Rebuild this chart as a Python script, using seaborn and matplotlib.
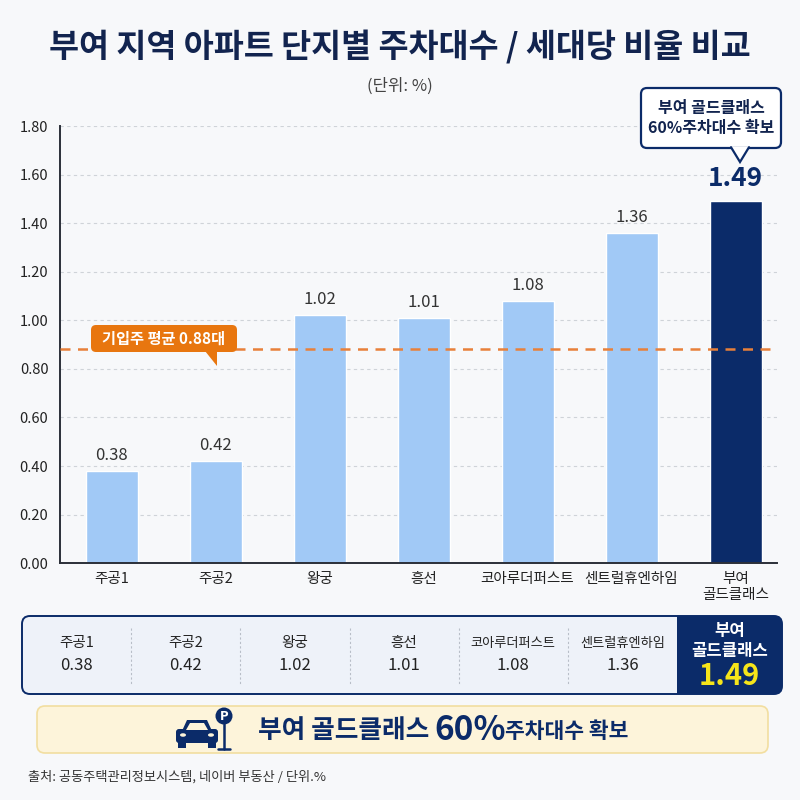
import matplotlib
matplotlib.use("Agg")
import matplotlib.pyplot as plt
import seaborn as sns
import numpy as np
from matplotlib.patches import FancyBboxPatch, Polygon, Rectangle, Circle, Ellipse
from matplotlib.ticker import FormatStrFormatter

# ---------------- data ----------------
categories = ["주공1", "주공2", "왕궁", "흥선", "코아루더퍼스트", "센트럴휴엔하임", "부여 골드클래스"]
tick_labels = ["주공1", "주공2", "왕궁", "흥선", "코아루더퍼스트", "센트럴휴엔하임", "부여\n골드클래스"]
values = [0.38, 0.42, 1.02, 1.01, 1.08, 1.36, 1.49]
average = 0.88
yticks = [0.0, 0.2, 0.4, 0.6, 0.8, 1.0, 1.2, 1.4, 1.6, 1.8]

title = "부여 지역 아파트 단지별 주차대수 / 세대당 비율 비교"
subtitle = "(단위: %)"
avg_label = "기입주 평균 0.88대"
callout_text = "부여 골드클래스\n60%주차대수 확보"
source_text = "출처: 공동주택관리정보시스템, 네이버 부동산 / 단위.%"

LIGHT = "#a1c9f6"
NAVY = "#0b2b69"
ORANGE = "#e8760f"
BG = "#f7f8fa"

sns.set_theme(style="white")
plt.rcParams["font.family"] = ["Noto Sans CJK KR", "DejaVu Sans"]

fig = plt.figure(figsize=(8, 8), dpi=100, facecolor=BG)
ax = fig.add_axes([0.0744, 0.296, 0.897, 0.5465])
ax.set_facecolor(BG)

colors = [LIGHT] * (len(categories) - 1) + [NAVY]
sns.barplot(x=categories, y=values, hue=categories, palette=colors, legend=False,
            width=0.5, ax=ax, saturation=1)

ax.set_ylim(0, 1.8)
ax.set_xlim(-0.5, len(categories) - 0.6)
ax.set_yticks(yticks)
ax.yaxis.set_major_formatter(FormatStrFormatter("%.2f"))
ax.set_xticks(range(len(categories)))
ax.set_xticklabels(tick_labels, fontsize=10.5, color="#222222")
ax.tick_params(axis="y", labelsize=10.5, colors="#222222", length=0, pad=8)
ax.tick_params(axis="x", length=0, pad=6)
ax.set_xlabel("")
ax.set_ylabel("")
ax.yaxis.grid(True, linestyle=(0, (3, 3)), color="#cfd3d8", linewidth=0.8)
ax.set_axisbelow(True)
for s in ["top", "right"]:
    ax.spines[s].set_visible(False)
for s in ["left", "bottom"]:
    ax.spines[s].set_color("#2b2f38")
    ax.spines[s].set_linewidth(1.4)

# value labels
for i, v in enumerate(values):
    if i == len(values) - 1:
        ax.text(i, v + 0.04, f"{v:.2f}", ha="center", va="bottom", fontsize=19,
                fontweight="bold", color=NAVY)
    else:
        ax.text(i, v + 0.03, f"{v:.2f}", ha="center", va="bottom", fontsize=12,
                color="#333333")

# average line
ax.axhline(average, color="#e8803a", linestyle=(0, (4, 3)), linewidth=1.8, zorder=3)

# ---------------- overlay in pixel coordinates ----------------
ov = fig.add_axes([0, 0, 1, 1])
ov.set_xlim(0, 800)
ov.set_ylim(800, 0)
ov.axis("off")
ov.patch.set_alpha(0)

ov.text(400, 47, title, ha="center", va="center", fontsize=23.5, fontweight="bold", color="#12244f")
ov.text(400, 86, subtitle, ha="center", va="center", fontsize=12, color="#444444")

# average label box
ov.add_patch(FancyBboxPatch((91, 325), 146, 27, boxstyle="round,pad=0,rounding_size=5",
                            facecolor=ORANGE, edgecolor="none", zorder=5))
ov.add_patch(Polygon([(205, 351), (217, 366), (217, 351)], closed=True, facecolor=ORANGE,
                     edgecolor="none", zorder=5))
ov.text(164, 338.5, avg_label, ha="center", va="center", fontsize=11, fontweight="bold",
        color="white", zorder=6)

# top-right callout
ov.add_patch(FancyBboxPatch((641, 88), 140, 60, boxstyle="round,pad=0,rounding_size=6",
                            facecolor="white", edgecolor=NAVY, linewidth=1.6, zorder=5))
ov.add_patch(Polygon([(731, 147), (740, 162), (749, 147)], closed=True, facecolor="white",
                     edgecolor="none", zorder=6))
ov.plot([731, 740, 749], [147.2, 162, 147.2], color=NAVY, linewidth=1.6, zorder=7,
        solid_joinstyle="miter")
ov.text(711, 118, callout_text, ha="center", va="center", fontsize=11.5, fontweight="bold",
        color="#12244f", linespacing=1.35, zorder=8)

# ---------------- table ----------------
tx0, tx1, ty0, ty1 = 22, 782, 616, 694
ov.add_patch(FancyBboxPatch((tx0, ty0), tx1 - tx0, ty1 - ty0,
                            boxstyle="round,pad=0,rounding_size=8",
                            facecolor="#eef2f9", edgecolor="none", zorder=2))
last_x0 = 677
ov.add_patch(FancyBboxPatch((last_x0, ty0), tx1 - last_x0, ty1 - ty0,
                            boxstyle="round,pad=0,rounding_size=8",
                            facecolor=NAVY, edgecolor="none", zorder=3))
ov.add_patch(Rectangle((last_x0, ty0), 20, ty1 - ty0, facecolor=NAVY, edgecolor="none", zorder=3))
ov.add_patch(FancyBboxPatch((tx0, ty0), tx1 - tx0, ty1 - ty0,
                            boxstyle="round,pad=0,rounding_size=8",
                            facecolor="none", edgecolor=NAVY, linewidth=1.4, zorder=4))
n_light = len(categories) - 1
cw = (last_x0 - tx0) / n_light
for i in range(n_light):
    cx = tx0 + cw * (i + 0.5)
    ov.text(cx, 643, categories[i], ha="center", va="center", fontsize=10.5 if len(categories[i]) < 5 else 9.5,
            color="#222222", zorder=5)
    ov.text(cx, 665, f"{values[i]:.2f}", ha="center", va="center", fontsize=12,
            color="#222222", zorder=5)
    if i > 0:
        xd = tx0 + cw * i
        ov.plot([xd, xd], [628, 684], color="#b8bec8", linestyle=(0, (2, 2)), linewidth=0.8, zorder=5)
lcx = (last_x0 + tx1) / 2
ov.text(lcx, 641, tick_labels[-1], ha="center", va="center", fontsize=12, fontweight="bold",
        color="white", linespacing=1.1, zorder=5)
ov.text(lcx, 676, f"{values[-1]:.2f}", ha="center", va="center", fontsize=21, fontweight="bold",
        color="#f6e51a", zorder=5)

# ---------------- banner ----------------
ov.add_patch(FancyBboxPatch((37, 706), 731, 47, boxstyle="round,pad=0,rounding_size=8",
                            facecolor="#fdf4da", edgecolor="#f2dea0", linewidth=1.2, zorder=2))
# car icon
ov.add_patch(Polygon([(182, 731), (187, 720), (207, 720), (212, 731)], closed=True,
                     facecolor=NAVY, edgecolor="none", zorder=4))
ov.add_patch(Polygon([(186, 730), (190, 723), (204, 723), (208, 730)], closed=True,
                     facecolor="#fdf4da", edgecolor="none", zorder=5))
ov.add_patch(FancyBboxPatch((176, 729), 42, 14, boxstyle="round,pad=0,rounding_size=3",
                            facecolor=NAVY, edgecolor="none", zorder=4))
ov.add_patch(Rectangle((178, 741), 8, 7, facecolor=NAVY, edgecolor="none", zorder=4))
ov.add_patch(Rectangle((208, 741), 8, 7, facecolor=NAVY, edgecolor="none", zorder=4))
ov.add_patch(Ellipse((183, 735), 6, 3.5, facecolor="#fdf4da", edgecolor="none", zorder=5))
ov.add_patch(Ellipse((211, 735), 6, 3.5, facecolor="#fdf4da", edgecolor="none", zorder=5))
ov.add_patch(Circle((224, 716), 8.5, facecolor=NAVY, edgecolor="none", zorder=4))
ov.text(224, 716.5, "P", ha="center", va="center", fontsize=8.5, fontweight="bold",
        color="white", zorder=5, family="DejaVu Sans")
ov.plot([224, 224], [724, 749], color=NAVY, linewidth=1.8, zorder=4)
ov.plot([218, 230], [749, 749], color=NAVY, linewidth=1.8, zorder=4)

ov.text(258, 731, "부여 골드클래스", ha="left", va="center", fontsize=18.5, fontweight="bold",
        color=NAVY, zorder=5)
ov.text(434, 730, "60%", ha="left", va="center", fontsize=24, fontweight="bold",
        color=NAVY, zorder=5)
ov.text(505, 732, "주차대수 확보", ha="left", va="center", fontsize=15.5, fontweight="bold",
        color=NAVY, zorder=5)

ov.text(28, 777, source_text, ha="left", va="center", fontsize=9.5, color="#333333")

fig.savefig("out.png", dpi=100, facecolor=BG)
